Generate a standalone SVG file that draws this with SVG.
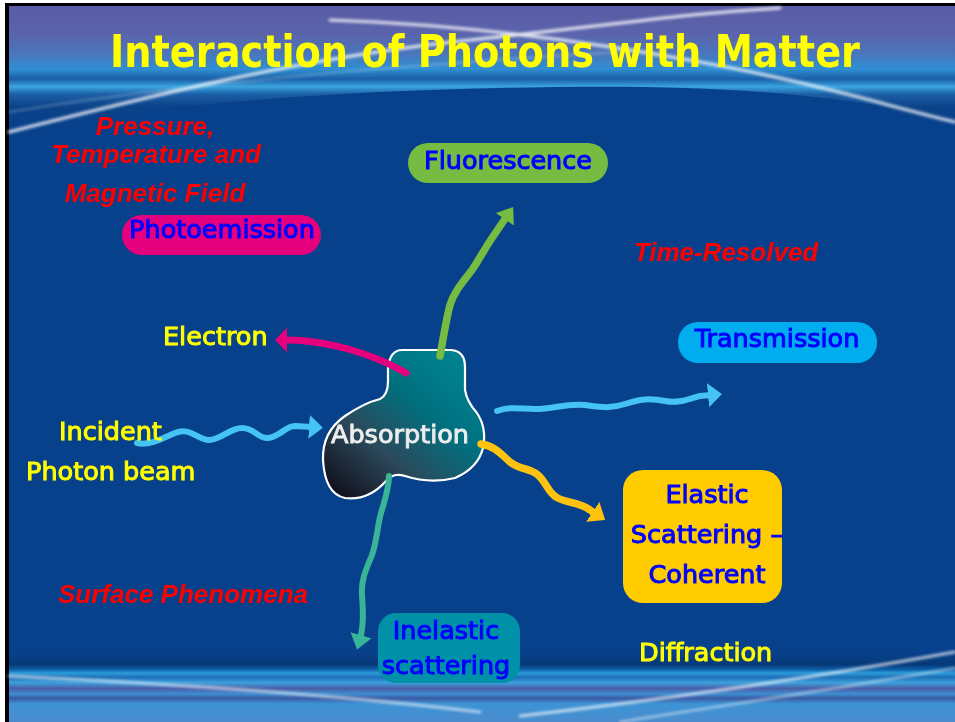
<svg xmlns="http://www.w3.org/2000/svg" width="955" height="722" viewBox="0 0 955 722">
<style>
.lbl{font-family:"DejaVu Sans","Liberation Sans",sans-serif;font-size:25.5px}
.blue{fill:#0000FF;stroke:#0000FF;stroke-width:1}
.yel{fill:#FFFF00;stroke:#FFFF00;stroke-width:1}
.red{font-family:"Liberation Sans",Arial,sans-serif;font-size:26px;font-weight:bold;font-style:italic;fill:#FF0000}
.title{font-family:"DejaVu Sans","Liberation Sans",sans-serif;font-weight:bold;font-size:44px;fill:#FFFF00}
.wire{fill:none;stroke-linecap:round;stroke-linejoin:round}
.streak{fill:none;stroke:#FFFFFF;stroke-linecap:round}
</style>
<defs>
<linearGradient id="hdr" x1="0" y1="0" x2="0" y2="1">
<stop offset="0" stop-color="#5A5CA5"/>
<stop offset="0.22" stop-color="#5A63AB"/>
<stop offset="0.38" stop-color="#4A76BC"/>
<stop offset="0.5" stop-color="#2E8FD2"/>
<stop offset="0.58" stop-color="#1A5FA8"/>
<stop offset="0.64" stop-color="#3AA4DE"/>
<stop offset="0.7" stop-color="#1C5FA6"/>
<stop offset="0.8" stop-color="#0B4289"/>
<stop offset="1" stop-color="#07408B"/>
</linearGradient>
<linearGradient id="ftr" x1="0" y1="0" x2="0" y2="1">
<stop offset="0" stop-color="#07408B"/>
<stop offset="0.18" stop-color="#063978"/>
<stop offset="0.25" stop-color="#0D5FA8"/>
<stop offset="0.3" stop-color="#2C9BD8"/>
<stop offset="0.36" stop-color="#1E6FB8"/>
<stop offset="0.44" stop-color="#3DA0DC"/>
<stop offset="0.52" stop-color="#4A5EA8"/>
<stop offset="0.6" stop-color="#3D8ED0"/>
<stop offset="0.66" stop-color="#3B5AA4"/>
<stop offset="0.74" stop-color="#3C93D4"/>
<stop offset="1" stop-color="#4B8CCE"/>
</linearGradient>
<linearGradient id="blob" x1="0.1" y1="0.95" x2="0.85" y2="0.15">
<stop offset="0" stop-color="#141421"/>
<stop offset="0.35" stop-color="#2B4A5C"/>
<stop offset="0.7" stop-color="#00707F"/>
<stop offset="1" stop-color="#00808F"/>
</linearGradient>
<filter id="glow" x="-10%" y="-50%" width="120%" height="200%">
<feGaussianBlur stdDeviation="1.6"/>
</filter>
<marker id="hBlue" markerUnits="userSpaceOnUse" markerWidth="26" markerHeight="26" refX="3" refY="12" orient="auto">
<path d="M0,0 L14,12 L0,24 Z" fill="#45C3F2"/>
</marker>
<marker id="hGreen" markerUnits="userSpaceOnUse" markerWidth="26" markerHeight="26" refX="4" refY="11" orient="auto">
<path d="M0,0 L15,11 L0,22 Z" fill="#76BC43"/>
</marker>
<marker id="hPink" markerUnits="userSpaceOnUse" markerWidth="26" markerHeight="28" refX="2" refY="12.5" orient="auto">
<path d="M0,0 L12,12.5 L0,25 Z" fill="#E5007D"/>
</marker>
<marker id="hGold" markerUnits="userSpaceOnUse" markerWidth="26" markerHeight="28" refX="4" refY="12" orient="auto">
<path d="M0,0 L15,12 L0,24 Z" fill="#FFC20F"/>
</marker>
<marker id="hTeal" markerUnits="userSpaceOnUse" markerWidth="26" markerHeight="26" refX="4" refY="11" orient="auto">
<path d="M0,0 L15,11 L0,22 Z" fill="#38B597"/>
</marker>
</defs>

<g id="background">
<rect x="0" y="0" width="955" height="722" fill="#FFFFFF"/>
<rect x="5" y="3" width="950" height="719" fill="#000000"/>
<rect x="9" y="6" width="946" height="716" fill="#07408B"/>
<path d="M9,6 H955 V122 C820,88 680,84 500,88 C320,92 160,104 9,132 Z" fill="url(#hdr)"/>
<rect x="9" y="652" width="946" height="70" fill="url(#ftr)"/>
<g filter="url(#glow)">
<path class="streak" d="M9,132 C150,96 300,58 470,40 S680,14 780,8" stroke-width="3" opacity="0.85"/>
<path class="streak" d="M330,20 C450,24 580,40 700,62 S880,104 955,122" stroke-width="3" opacity="0.8"/>
<path class="streak" d="M9,112 C200,80 450,62 620,52" stroke-width="1.5" opacity="0.35"/>
<path class="streak" d="M9,676 C180,684 330,694 480,712" stroke-width="2.5" opacity="0.7"/>
<path class="streak" d="M955,652 C800,680 660,700 520,716" stroke-width="2.5" opacity="0.8"/>
<path class="streak" d="M955,668 C830,690 720,706 620,722" stroke-width="2" opacity="0.6"/>
</g>
</g>

<g id="title">
<text class="title" x="110" y="67" textLength="750" lengthAdjust="spacingAndGlyphs">Interaction of Photons with Matter</text>
</g>

<g id="absorption">
<path d="M402,350 L451,350 Q465,351 465,367 L465,390 Q467,402 477,413 Q487,428 483,448 Q478,468 455,478 Q430,484 405,476 Q393,472 386,481 Q368,501 345,498 Q325,494 323,460 Q322,432 345,416 Q364,403 380,399 Q388,395 388,381 L388,368 Q390,350 402,350 Z" fill="url(#blob)" stroke="#FFFFFF" stroke-width="2.2"/>
<text class="lbl" x="400" y="443" text-anchor="middle" fill="#EDEDED" stroke="#EDEDED" stroke-width="0.9">Absorption</text>
</g>

<g id="connectors">
<path class="wire" d="M137,443 C150,446 163,438 175,433 C190,426 198,441 210,440 C222,439 230,428 242,428 C255,428 258,439 268,438 C280,437 285,426 295,426 L312,427" stroke="#45C3F2" stroke-width="6" marker-end="url(#hBlue)"/>
<path class="wire" d="M497,411 C510,406 520,409 535,409 C555,409 565,403 585,405 C600,407 610,409 625,404 C640,399 650,398 665,401 C680,404 690,398 700,396 L711,395" stroke="#45C3F2" stroke-width="6" marker-end="url(#hBlue)"/>
<path class="wire" d="M440,356 C443,340 446,320 450,305 C454,292 462,283 472,270 C480,258 484,250 492,238 L507,216" stroke="#76BC43" stroke-width="7.5" marker-end="url(#hGreen)"/>
<path class="wire" d="M406,373 C375,355 330,340 285,340" stroke="#E5007D" stroke-width="7" marker-end="url(#hPink)"/>
<path class="wire" d="M481,444 C495,446 502,455 510,462 C520,470 530,468 538,475 C546,482 548,492 556,497 C565,503 580,502 590,510 L596,514" stroke="#FFC20F" stroke-width="7.5" marker-end="url(#hGold)"/>
<path class="wire" d="M389,476 C389,490 383,505 380,517 C377,530 377,540 372,555 C367,568 361,578 362,595 C363,610 364,625 360,639" stroke="#38B597" stroke-width="6" marker-end="url(#hTeal)"/>
</g>

<g id="fluorescence">
<rect x="408" y="143" width="200" height="40" rx="20" fill="#76BC43"/>
<text class="lbl blue" x="508" y="169" text-anchor="middle">Fluorescence</text>
</g>

<g id="photoemission">
<rect x="122" y="215" width="199" height="40" rx="20" fill="#E5007D"/>
<text class="lbl blue" x="222" y="238" text-anchor="middle">Photoemission</text>
</g>

<g id="transmission">
<rect x="678" y="322" width="199" height="41" rx="20" fill="#00AEEF"/>
<text class="lbl blue" x="777" y="347" text-anchor="middle">Transmission</text>
</g>

<g id="elastic">
<rect x="623" y="470" width="159" height="133" rx="20" fill="#FFCC00"/>
<text class="lbl blue" x="707" y="503" text-anchor="middle">Elastic</text>
<text class="lbl blue" x="707" y="543" text-anchor="middle">Scattering –</text>
<text class="lbl blue" x="707" y="583" text-anchor="middle">Coherent</text>
</g>

<g id="inelastic">
<rect x="378" y="613" width="142" height="70" rx="18" fill="#0090A8"/>
<text class="lbl blue" x="446" y="639" text-anchor="middle">Inelastic</text>
<text class="lbl blue" x="446" y="674" text-anchor="middle">scattering</text>
</g>

<g id="electron">
<text class="lbl yel" x="163" y="345">Electron</text>
</g>

<g id="incident">
<text class="lbl yel" x="59" y="440">Incident</text>
<text class="lbl yel" x="26" y="480">Photon beam</text>
</g>

<g id="diffraction">
<text class="lbl yel" x="639" y="661">Diffraction</text>
</g>

<g id="conditions">
<text class="red" x="155" y="135" text-anchor="middle">Pressure,</text>
<text class="red" x="156" y="163" text-anchor="middle">Temperature and</text>
<text class="red" x="155" y="202" text-anchor="middle">Magnetic Field</text>
<text class="red" x="726" y="261" text-anchor="middle">Time-Resolved</text>
<text class="red" x="183" y="603" text-anchor="middle">Surface Phenomena</text>
</g>
</svg>
